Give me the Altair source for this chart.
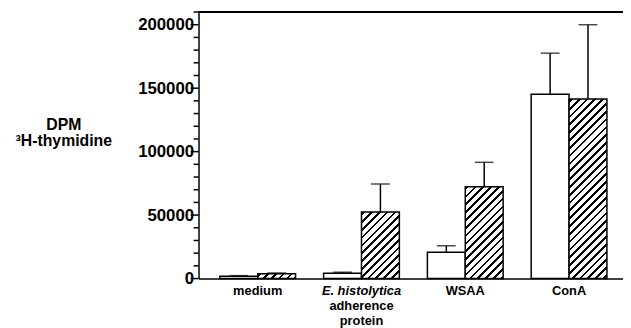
import math
import altair as alt
import pandas as pd

# ---- data ----
categories = ["medium", "E. histolytica adherence protein", "WSAA", "ConA"]
label_line1 = ["medium", "E. histolytica", "WSAA", "ConA"]
label_rest = ["", "adherence\nprotein", "", ""]
series = ["open", "hatched"]
open_mean = [1800, 4200, 20800, 145300]
open_upper = [2300, 5000, 25800, 177600]
hatched_mean = [3800, 52500, 72400, 141400]
hatched_upper = [4400, 74500, 91600, 200000]
y_major = [0, 50000, 100000, 150000, 200000]
y_minor = [v for v in range(0, 210001, 10000) if v not in y_major]
y_max = 210000

# ---- layout / style ----
W, H = 430, 270
PI, PO, ALIGN = 0.27, 0.18, 0.57
FONT = "Liberation Sans"
MAJOR_LEN, MINOR_LEN = 8, 5

rows = []
for i, c in enumerate(categories):
    rows.append(dict(cat=c, series="open", mean=open_mean[i], upper=open_upper[i],
                     rest=label_rest[i]))
    rows.append(dict(cat=c, series="hatched", mean=hatched_mean[i], upper=hatched_upper[i],
                     rest=label_rest[i]))
df = pd.DataFrame(rows)
ticks_df = pd.DataFrame({"v": y_major + y_minor,
                         "kind": ["major"] * len(y_major) + ["minor"] * len(y_minor)})

# label expression: first line of each category label
expr = "datum.value"
for c, l in zip(categories, label_line1):
    if c != l:
        expr = f"datum.value == '{c}' ? '{l}' : ({expr})"
italic_test = " || ".join(f"datum.value == '{c}'" for c, l in zip(categories, label_line1) if l.startswith("E."))

x_enc = alt.X(
    "cat:N", sort=categories,
    scale=alt.Scale(paddingInner=PI, paddingOuter=PO, align=ALIGN),
    axis=alt.Axis(title=None, labelAngle=0, labelExpr=expr,
                  labelFontStyle={"condition": {"test": italic_test, "value": "italic"}, "value": "normal"},
                  labelFont=FONT, labelFontSize=13, labelFontWeight="bold", labelColor="black",
                  labelPadding=6, domainColor="black", domainWidth=1.5, grid=False,
                  labelOverlap=False),
)
xo_enc = alt.XOffset("series:N", sort=series,
                     scale=alt.Scale(domain=series, paddingInner=0, paddingOuter=0))
y_scale = alt.Scale(domain=[0, y_max], nice=False, zero=True)
y_axis = alt.Axis(
    values=y_major, format="d",
    domainColor="black", domainWidth=1.5, grid=False,
    labelFont=FONT, labelFontSize=17, labelFontWeight="bold", labelColor="black",
    labelPadding=5, labelOverlap=False,
    title=["DPM", "³H-thymidine"], titleAngle=0, titleAlign="center", titleBaseline="top",
    titleX=-137, titleY=106, titleFont=FONT, titleFontSize=16, titleFontWeight="bold",
    titleColor="black", titleLineHeight=16,
)

base = alt.Chart(df)

open_bars = base.transform_filter(alt.datum.series == "open").mark_bar(
    fill="white", stroke="black", strokeWidth=1.5
).encode(x=x_enc, xOffset=xo_enc, y=alt.Y("mean:Q", scale=y_scale, axis=y_axis))

# hatch via hard-stop linear gradients (objectBoundingBox units)
step = W / (len(categories) - PI + 2 * PO)
bw = step * (1 - PI) / 2
PERIOD, THICK = 5.6, 1.9


def hatch(h, w=bw):
    a = (1 / h + 1 / w) / (1 / h ** 2 + 1 / w ** 2)
    L = (w + h) / math.sqrt(2)
    stops = []
    k = 0
    while True:
        s0 = (k * PERIOD + 1.0) / L
        s1 = (k * PERIOD + 1.0 + THICK) / L
        if s0 >= 1:
            break
        s1 = min(s1, 1.0)
        stops += [{"offset": s0, "color": "white"}, {"offset": s0, "color": "black"},
                  {"offset": s1, "color": "black"}, {"offset": s1, "color": "white"}]
        k += 1
    stops = [{"offset": 0, "color": "white"}] + stops + [{"offset": 1, "color": "white"}]
    return {"gradient": "linear", "x1": 0, "y1": 0, "x2": a / h, "y2": a / w, "stops": stops}


hatched_layers = []
for i, c in enumerate(categories):
    h = hatched_mean[i] / y_max * H
    hatched_layers.append(
        base.transform_filter((alt.datum.series == "hatched") & (alt.datum.cat == c)).mark_bar(
            fill=hatch(h), stroke="black", strokeWidth=1.5
        ).encode(x=x_enc, xOffset=xo_enc, y=alt.Y("mean:Q", scale=y_scale, axis=y_axis))
    )

err = base.mark_rule(color="black", strokeWidth=1.5).encode(
    x=x_enc, xOffset=xo_enc, y=alt.Y("mean:Q", scale=y_scale, axis=y_axis), y2="upper:Q"
)
caps = base.mark_tick(color="black", thickness=1.5, size=19).encode(
    x=x_enc, xOffset=xo_enc, y=alt.Y("upper:Q", scale=y_scale, axis=y_axis)
)
top_line = base.mark_rule(color="black", strokeWidth=1.5).encode(
    y=alt.datum(y_max, scale=y_scale, axis=y_axis)
)
extra_labels = base.transform_filter(alt.datum.series == "open").mark_text(
    font=FONT, fontSize=13, fontWeight="bold", color="black", baseline="top",
    lineBreak="\n", lineHeight=15
).encode(x=x_enc, y=alt.value(H + 22), text="rest:N")

# y-axis tick marks (major and minor) as short rules left of the axis line
tick_layers = []
for kind, ln in (("major", MAJOR_LEN), ("minor", MINOR_LEN)):
    tick_layers.append(
        alt.Chart(ticks_df).transform_filter(alt.datum.kind == kind).mark_rule(
            color="black", strokeWidth=1.5, clip=False
        ).encode(x=alt.value(-ln), x2=alt.value(0), y=alt.Y("v:Q", scale=y_scale, axis=y_axis))
    )

chart = alt.layer(open_bars, *hatched_layers, err, caps, top_line, extra_labels,
                  *tick_layers).properties(
    width=W, height=H,
    autosize=alt.AutoSizeParams(type="none"),
    padding={"left": 193, "top": 2, "right": 0, "bottom": 48},
).configure_view(strokeWidth=0).configure_axisY(
    ticks=False
).configure_axisX(ticks=False)

chart.save("out.html", embed_options={"renderer": "svg", "actions": False})
